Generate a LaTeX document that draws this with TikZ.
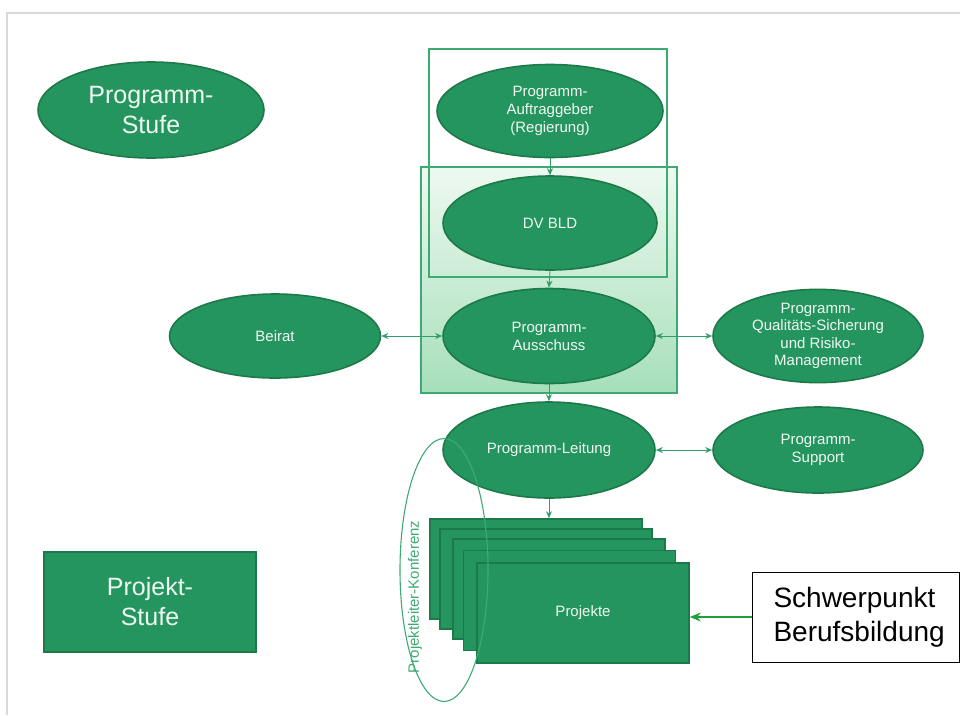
\documentclass[tikz,border=0pt]{standalone}
\usepackage{fontspec}
\setmainfont{Liberation Sans}
\usetikzlibrary{shapes.geometric,arrows.meta}
\definecolor{gfill}{HTML}{25955F}
\definecolor{gline}{HTML}{1C7A48}
\definecolor{gbox}{HTML}{3DAA72}
\definecolor{garrow}{HTML}{2F9E68}
\definecolor{gtop}{HTML}{EEF9F1}
\definecolor{gbot}{HTML}{A6DFBA}
\definecolor{gtext}{HTML}{F0F8F2}
\definecolor{frame}{HTML}{D9D9D9}
\definecolor{sparrow}{HTML}{1E9E3E}
\tikzset{
  oval/.style={ellipse, draw=gline, line width=1.6pt, fill=gfill, text=gtext, inner sep=0pt, align=center, font=\fontsize{15}{18}\selectfont},
  projbox/.style={rectangle, draw=gline, line width=1.6pt, fill=gfill, text=gtext, inner sep=0pt, minimum width=212pt, minimum height=100pt, font=\fontsize{15}{18}\selectfont},
  conn/.style={draw=garrow, line width=0.9pt, -{Stealth[length=7pt,width=6pt]}},
  bconn/.style={draw=garrow, line width=0.9pt, {Stealth[length=7pt,width=6pt]}-{Stealth[length=7pt,width=6pt]}},
  grpbox/.style={draw=gbox, line width=1.1pt},
}
\begin{document}
\begin{tikzpicture}[x=1pt,y=-1pt]
\useasboundingbox (0,0) rectangle (960,715);
% frame
\draw[frame, line width=1.8pt] (7,715) -- (7,13) -- (960,13);

% legend
\node[oval, minimum width=226pt, minimum height=96pt, font=\fontsize{25}{30}\selectfont] (stufeP) at (151,110) {Programm-\\Stufe};
\node[projbox, minimum width=212pt, minimum height=100pt, align=center, font=\fontsize{25}{30}\selectfont] (stufeJ) at (150,602) {Projekt-\\Stufe};

% group boxes
\shade[top color=gtop, bottom color=gbot] (421,167) rectangle (677,393);
\draw[grpbox] (429,49) rectangle (667,277);
\draw[grpbox] (421,167) rectangle (677,393);

% central ellipses
\node[oval, minimum width=226pt, minimum height=93pt] (auf) at (550,111) {Programm-\\Auftraggeber\\(Regierung)};
\node[oval, minimum width=214pt, minimum height=94pt] (dv) at (550,223) {DV BLD};
\node[oval, minimum width=212pt, minimum height=95pt] (aus) at (549,336) {Programm-\\Ausschuss};
\node[oval, minimum width=211pt, minimum height=84pt] (bei) at (275,336) {Beirat};
\node[oval, minimum width=210pt, minimum height=84pt, font=\fontsize{15}{17.5}\selectfont] (qs) at (818,336) {Programm-\\Qualitäts-Sicherung\\und Risiko-\\Management};
\node[oval, minimum width=212pt, minimum height=96pt] (lei) at (549,450) {Programm-Leitung};
\node[oval, minimum width=210pt, minimum height=86pt] (sup) at (818,450) {Programm-\\Support};

% project stack
\node[projbox] (p1) at (536,569) {};
\node[projbox] (p2) at (546,579) {};
\node[projbox] (p3) at (559,589) {};
\node[projbox] (p4) at (569.5,600.5) {};
\node[projbox] (p5) at (583,613) {Projekte};

% Projektleiter-Konferenz
\node[ellipse, draw=gbox, line width=1.1pt, minimum width=88pt, minimum height=263pt, inner sep=0pt] (plk) at (444,570) {};
\node[rotate=90, text=gbox, font=\fontsize{15}{18}\selectfont] (plkt) at (415,597) {Projektleiter-Konferenz};

% Schwerpunkt
\node[draw=black, line width=0.9pt, fill=white, rectangle, inner xsep=21pt, text width=165pt, minimum height=90pt, align=left, font=\fontsize{28}{34}\selectfont] (sp) at (856,617) {Schwerpunkt\\Berufsbildung};

% connectors
\draw[conn] (auf.south) -- (dv.north);
\draw[conn] (dv.south) -- (aus.north);
\draw[conn] (aus.south) -- (lei.north);
\draw[conn] (lei.south) -- (lei.south |- p1.north);
\draw[bconn] (bei.east) -- (aus.west);
\draw[bconn] (aus.east) -- (qs.west);
\draw[bconn] (lei.east) -- (sup.west);
\draw[draw=sparrow, line width=1.1pt, -{Stealth[length=11pt,width=9pt]}] (sp.west) -- (sp.west -| p5.east);
\end{tikzpicture}
\end{document}
